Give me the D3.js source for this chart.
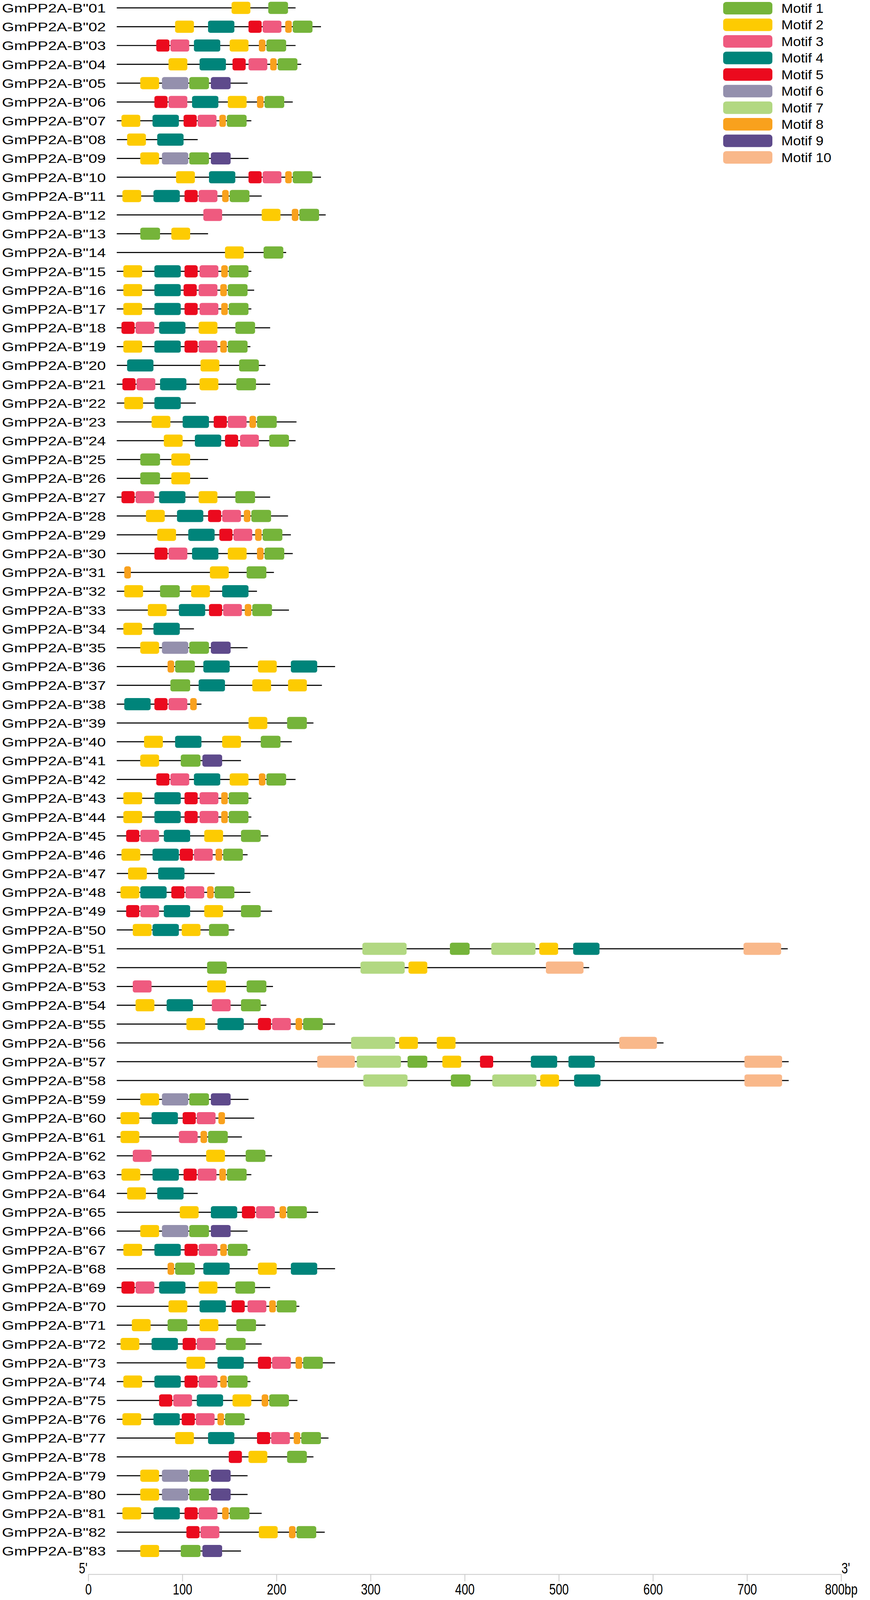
<!DOCTYPE html>
<html lang="en">
<head>
  <meta charset="UTF-8">
  <title>GmPP2A-B'' motifs</title>
  <style>
    html, body { margin: 0; padding: 0; height: 100%; overflow: hidden; background: #fff; }
    svg { display: block; width: 100vw; height: 100vh; }
    text { font-family: "Liberation Sans", Arial, sans-serif; fill: #000; }
  </style>
</head>
<body>
  <svg viewBox="0 0 2228 4472" preserveAspectRatio="none"></svg>

  <script src="https://d3js.org/d3.v7.min.js"></script>
  <script>
  // 1. data (positions in aa from the start of each protein)
  var genes = [
    'GmPP2A-B"01','GmPP2A-B"02','GmPP2A-B"03','GmPP2A-B"04','GmPP2A-B"05','GmPP2A-B"06','GmPP2A-B"07',
    'GmPP2A-B"08','GmPP2A-B"09','GmPP2A-B"10','GmPP2A-B"11','GmPP2A-B"12','GmPP2A-B"13','GmPP2A-B"14',
    'GmPP2A-B"15','GmPP2A-B"16','GmPP2A-B"17','GmPP2A-B"18','GmPP2A-B"19','GmPP2A-B"20','GmPP2A-B"21',
    'GmPP2A-B"22','GmPP2A-B"23','GmPP2A-B"24','GmPP2A-B"25','GmPP2A-B"26','GmPP2A-B"27','GmPP2A-B"28',
    'GmPP2A-B"29','GmPP2A-B"30','GmPP2A-B"31','GmPP2A-B"32','GmPP2A-B"33','GmPP2A-B"34','GmPP2A-B"35',
    'GmPP2A-B"36','GmPP2A-B"37','GmPP2A-B"38','GmPP2A-B"39','GmPP2A-B"40','GmPP2A-B"41','GmPP2A-B"42',
    'GmPP2A-B"43','GmPP2A-B"44','GmPP2A-B"45','GmPP2A-B"46','GmPP2A-B"47','GmPP2A-B"48','GmPP2A-B"49',
    'GmPP2A-B"50','GmPP2A-B"51','GmPP2A-B"52','GmPP2A-B"53','GmPP2A-B"54','GmPP2A-B"55','GmPP2A-B"56',
    'GmPP2A-B"57','GmPP2A-B"58','GmPP2A-B"59','GmPP2A-B"60','GmPP2A-B"61','GmPP2A-B"62','GmPP2A-B"63',
    'GmPP2A-B"64','GmPP2A-B"65','GmPP2A-B"66','GmPP2A-B"67','GmPP2A-B"68','GmPP2A-B"69','GmPP2A-B"70',
    'GmPP2A-B"71','GmPP2A-B"72','GmPP2A-B"73','GmPP2A-B"74','GmPP2A-B"75','GmPP2A-B"76','GmPP2A-B"77',
    'GmPP2A-B"78','GmPP2A-B"79','GmPP2A-B"80','GmPP2A-B"81','GmPP2A-B"82','GmPP2A-B"83'
  ];

  var geneLengths = [
    190, 217, 190, 196, 139, 187, 143, 86, 140, 217,
    154, 222, 97, 180, 143, 146, 143, 163, 142, 158,
    163, 84, 191, 190, 97, 97, 163, 182, 185, 187,
    167, 149, 183, 82, 139, 232, 218, 90, 209, 186,
    132, 190, 143, 143, 161, 139, 104, 142, 165, 125,
    713, 502, 166, 159, 232, 581, 714, 714, 140, 146,
    133, 165, 143, 86, 214, 139, 142, 232, 163, 194,
    158, 154, 232, 142, 192, 141, 225, 209, 139, 139,
    154, 221, 132
  ];

  // [motif number, start]
  var geneMotifs = [
    [[2,122],[1,161]],
    [[2,62],[4,97],[5,140],[3,155],[8,179],[1,187]],
    [[5,42],[3,57],[4,82],[2,120],[8,151],[1,159]],
    [[2,55],[4,88],[5,123],[3,140],[8,163],[1,171]],
    [[2,25],[6,48],[1,77],[9,100]],
    [[5,40],[3,55],[4,80],[2,118],[8,149],[1,157]],
    [[2,5],[4,38],[5,71],[3,86],[8,109],[1,117]],
    [[2,11],[4,43]],
    [[2,25],[6,48],[1,77],[9,100]],
    [[2,63],[4,98],[5,140],[3,155],[8,179],[1,187]],
    [[2,6],[4,39],[5,72],[3,87],[8,112],[1,120]],
    [[3,92],[2,154],[8,186],[1,194]],
    [[1,25],[2,58]],
    [[2,115],[1,156]],
    [[2,7],[4,40],[5,72],[3,88],[8,111],[1,119]],
    [[2,7],[4,40],[5,71],[3,87],[8,110],[1,118]],
    [[2,7],[4,40],[5,72],[3,88],[8,111],[1,119]],
    [[5,5],[3,20],[4,45],[2,87],[1,126]],
    [[2,7],[4,40],[5,72],[3,87],[8,110],[1,118]],
    [[4,11],[2,89],[1,130]],
    [[5,6],[3,21],[4,46],[2,88],[1,127]],
    [[2,8],[4,40]],
    [[2,37],[4,70],[5,103],[3,118],[8,141],[1,149]],
    [[2,50],[4,83],[5,115],[3,131],[1,162]],
    [[1,25],[2,58]],
    [[1,25],[2,58]],
    [[5,5],[3,20],[4,45],[2,87],[1,126]],
    [[2,31],[4,64],[5,97],[3,112],[8,135],[1,143]],
    [[2,43],[4,76],[5,109],[3,124],[8,147],[1,155]],
    [[5,40],[3,55],[4,80],[2,118],[8,149],[1,157]],
    [[8,8],[2,99],[1,138]],
    [[2,8],[1,46],[2,79],[4,112]],
    [[2,33],[4,66],[5,98],[3,113],[8,136],[1,144]],
    [[2,7],[4,39]],
    [[2,25],[6,48],[1,77],[9,100]],
    [[8,54],[1,62],[4,92],[2,150],[4,185]],
    [[1,57],[4,87],[2,144],[2,182]],
    [[4,8],[5,40],[3,55],[8,78]],
    [[2,140],[1,181]],
    [[2,29],[4,62],[2,112],[1,153]],
    [[2,25],[1,68],[9,91]],
    [[5,42],[3,57],[4,82],[2,120],[8,151],[1,159]],
    [[2,7],[4,40],[5,72],[3,88],[8,111],[1,119]],
    [[2,7],[4,40],[5,72],[3,88],[8,111],[1,119]],
    [[5,10],[3,25],[4,50],[2,93],[1,132]],
    [[2,5],[4,38],[5,67],[3,82],[8,105],[1,113]],
    [[2,12],[4,44]],
    [[2,4],[4,25],[5,58],[3,73],[8,96],[1,104]],
    [[5,10],[3,25],[4,50],[2,93],[1,132]],
    [[2,17],[4,38],[2,69],[1,98]],
    [[7,261],[1,354],[7,398],[2,449],[4,485],[10,666]],
    [[1,96],[7,259],[2,310],[10,456]],
    [[3,17],[2,96],[1,138]],
    [[2,20],[4,53],[3,101],[1,132]],
    [[2,74],[4,107],[5,150],[3,165],[8,190],[1,198]],
    [[7,249],[2,300],[2,340],[10,534]],
    [[10,213],[7,255],[1,309],[2,346],[5,386],[4,440],[4,480],[10,667]],
    [[7,262],[1,355],[7,399],[2,450],[4,486],[10,667]],
    [[2,25],[6,48],[1,77],[9,100]],
    [[2,4],[4,37],[5,70],[3,85],[8,108]],
    [[2,4],[3,66],[8,89],[1,97]],
    [[3,17],[2,95],[1,137]],
    [[2,5],[4,38],[5,71],[3,86],[8,109],[1,117]],
    [[2,11],[4,43]],
    [[2,67],[4,100],[5,133],[3,148],[8,173],[1,181]],
    [[2,25],[6,48],[1,77],[9,100]],
    [[2,7],[4,40],[5,72],[3,87],[8,110],[1,118]],
    [[8,54],[1,62],[4,92],[2,150],[4,185]],
    [[5,5],[3,20],[4,45],[2,87],[1,126]],
    [[2,55],[4,88],[5,122],[3,139],[8,162],[1,170]],
    [[2,16],[1,54],[2,88],[1,127]],
    [[2,4],[4,37],[5,70],[3,85],[1,116]],
    [[2,74],[4,107],[5,150],[3,165],[8,190],[1,198]],
    [[2,7],[4,40],[5,72],[3,87],[8,110],[1,118]],
    [[5,45],[3,60],[4,85],[2,123],[8,154],[1,162]],
    [[2,6],[4,39],[5,69],[3,84],[8,107],[1,115]],
    [[2,62],[4,97],[5,149],[3,164],[8,188],[1,196]],
    [[5,119],[2,140],[1,181]],
    [[2,25],[6,48],[1,77],[9,100]],
    [[2,25],[6,48],[1,77],[9,100]],
    [[2,6],[4,39],[5,72],[3,87],[8,112],[1,120]],
    [[5,74],[3,89],[2,151],[8,183],[1,191]],
    [[2,25],[1,68],[9,91]]
  ];

  var motifNames = ["Motif 1","Motif 2","Motif 3","Motif 4","Motif 5","Motif 6","Motif 7","Motif 8","Motif 9","Motif 10"];
  var motifColors = ["#75b43a","#fdcb02","#ef5a7f","#00847a","#eb0a1e","#9490ad","#b2d882","#f9a11d","#5e4a8b","#f9b88a"];
  var motifWidths = [21, 20, 20, 28, 14, 28, 47, 7, 21, 40];
  var axisTicks = [0, 100, 200, 300, 400, 500, 600, 700, 800];

  // 2. scales (drawing space is 2228 x 4472, the svg viewBox stretches it to the window)
  var svg = d3.select("svg");
  var x = d3.scaleLinear().domain([0, 800]).range([299, 2227]);      // protein lines
  var xAxisScale = d3.scaleLinear().domain([0, 800]).range([226, 2154]); // ruler underneath
  var y = d3.scalePoint().domain(genes).range([22, 4335]);
  var yLegend = d3.scalePoint().domain(motifNames).range([23, 440]);
  var color = d3.scaleOrdinal().domain(d3.range(1, 11)).range(motifColors);
  var boxH = 34;

  // 3. one group per protein
  var row = svg.append("g").selectAll(".gene")
    .data(genes)
    .enter()
    .append("g")
    .attr("class", "gene")
    .attr("transform", function(d) { return "translate(0," + y(d) + ")"; });

  row.append("text")
    .attr("x", 5)
    .attr("y", 13)
    .attr("font-size", 35)
    .attr("textLength", 266)
    .attr("lengthAdjust", "spacingAndGlyphs")
    .text(function(d) { return d; });

  row.append("line")
    .attr("x1", x(0))
    .attr("x2", function(d, i) { return x(geneLengths[i]); })
    .attr("stroke", "#000")
    .attr("stroke-width", 3);

  row.selectAll("rect")
    .data(function(d, i) { return geneMotifs[i]; })
    .enter()
    .append("rect")
    .attr("x", function(m) { return x(m[1]); })
    .attr("y", -boxH / 2)
    .attr("width", function(m) { return x(m[1] + motifWidths[m[0] - 1]) - x(m[1]); })
    .attr("height", boxH)
    .attr("rx", 6)
    .attr("fill", function(m) { return color(m[0]); });

  // 4. legend
  var legend = svg.append("g").selectAll(".legend")
    .data(motifNames)
    .enter()
    .append("g")
    .attr("class", "legend")
    .attr("transform", function(d) { return "translate(1852," + yLegend(d) + ")"; });

  legend.append("rect")
    .attr("y", -17.5)
    .attr("width", 126)
    .attr("height", 35)
    .attr("rx", 8)
    .attr("fill", function(d, i) { return motifColors[i]; });

  legend.append("text")
    .attr("x", 149)
    .attr("y", 13)
    .attr("font-size", 36)
    .text(function(d) { return d; });

  // 5. ruler
  var axis = d3.axisBottom(xAxisScale)
    .tickValues(axisTicks)
    .tickSize(20)
    .tickSizeOuter(0)
    .tickFormat(function(d) { return d === 800 ? "800bp" : d; });

  var gAxis = svg.append("g")
    .attr("transform", "translate(0,4400)")
    .call(axis)
    .attr("font-family", null)
    .attr("font-size", null);

  gAxis.select(".domain").attr("stroke", "#c8c8c8").attr("stroke-width", 2);
  gAxis.selectAll(".tick line").attr("stroke", "#c8c8c8").attr("stroke-width", 2);
  gAxis.selectAll(".tick text")
    .attr("y", 57)
    .attr("dy", 0)
    .attr("font-size", 43)
    .attr("fill", "#000")
    .attr("transform", "scale(0.7,1)");

  gAxis.append("text")
    .attr("transform", "translate(224,-2) scale(0.7,1)")
    .attr("text-anchor", "end")
    .attr("font-size", 42)
    .text("5'");

  gAxis.append("text")
    .attr("transform", "translate(2155,-2) scale(0.7,1)")
    .attr("text-anchor", "start")
    .attr("font-size", 42)
    .text("3'");
  </script>
</body>
</html>
